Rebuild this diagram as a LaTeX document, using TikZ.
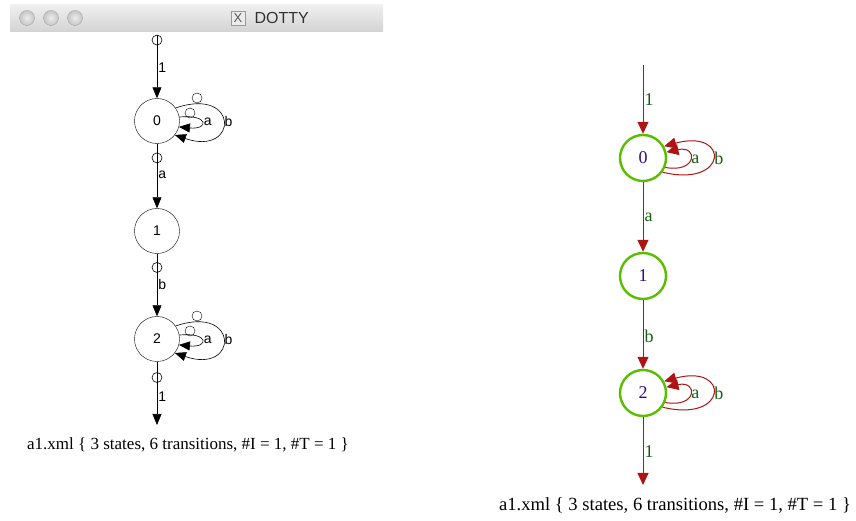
\documentclass[tikz,border=0pt]{standalone}
\usepackage{fontspec}
\setmainfont{Liberation Serif}
\newfontfamily\dottyfont{Liberation Sans}
\usetikzlibrary{arrows.meta,positioning}

\definecolor{stategreen}{RGB}{90,190,0}
\definecolor{edgered}{RGB}{175,20,20}
\definecolor{labelgreen}{RGB}{20,95,20}
\definecolor{stateblue}{RGB}{45,10,140}

\tikzset{
  dstate/.style={circle, draw, minimum size=45pt, inner sep=0pt, font=\dottyfont\fontsize{14}{14}\selectfont},
  dedge/.style={-{Triangle[length=11pt,width=9pt]}, black, line width=0.6pt},
  dlabel/.style={font=\dottyfont\fontsize{14}{14}\selectfont, anchor=west, inner sep=1pt},
  handle/.style={circle, draw, minimum size=10pt, inner sep=0pt},
  rstate/.style={circle, draw=stategreen, line width=2.4pt, minimum size=46pt, inner sep=0pt,
    text=stateblue, font=\fontsize{18}{18}\selectfont},
  redge/.style={-{Triangle[length=12pt,width=11pt]}, edgered, line width=1pt},
  rlabel/.style={text=labelgreen, font=\fontsize{18}{18}\selectfont, anchor=west, inner sep=1pt}
}

\begin{document}
\begin{tikzpicture}[x=1pt,y=1pt]
  \useasboundingbox (0,0) rectangle (856,521);

  % dotty window title bar
  \shade[top color=gray!12, bottom color=gray!35] (10,489) rectangle (383,516);
  \foreach \cx in {27,51,75}
    \shade[draw=gray!70, inner color=gray!15, outer color=gray!45] (\cx,503) circle (7.5);
  \node[draw=gray!80, fill=gray!15, minimum size=14pt, inner sep=0pt,
    font=\dottyfont\fontsize{13}{13}\selectfont, text=gray!70!black] (xicon) at (238,503) {X};
  \node[font=\dottyfont\fontsize{16}{16}\selectfont, text=black!80, anchor=west] (title) at (251,503) {DOTTY};

  % dotty graph
  \node[dstate] (L0) at (157,400) {0};
  \node[dstate] (L1) at (157,290) {1};
  \node[dstate] (L2) at (157,182) {2};
  \coordinate (Lin) at (157,486);
  \coordinate (Lout) at (157,96);

  \draw[dedge] (Lin) -- node[handle, pos=0.08] {} node[dlabel, pos=0.52] {1} (L0);
  \draw[dedge] (L0) -- node[handle, pos=0.22] {} node[dlabel, pos=0.48] {a} (L1);
  \draw[dedge] (L1) -- node[handle, pos=0.22] {} node[dlabel, pos=0.5] {b} (L2);
  \draw[dedge] (L2) -- node[handle, pos=0.25] {} node[dlabel, pos=0.55] {1} (Lout);

  \foreach \s in {L0,L2} {
    \draw[dedge] (\s.10) .. controls +(30,3) and +(30,-3) .. (\s.-15)
      node[dlabel, pos=0.5, xshift=1pt] {a};
    \draw[dedge] (\s.35) .. controls +(64,22) and +(64,-22) .. (\s.-38)
      node[dlabel, pos=0.5] {b};
    \node[handle] at ([shift={(33,8)}]\s.center) {};
    \node[handle] at ([shift={(40,23)}]\s.center) {};
  }

  \node[font=\fontsize{17}{17}\selectfont] (Linfo) at (188,76)
    {a1.xml \{ 3 states, 6 transitions, \#I = 1, \#T = 1 \}};

  % rendered graph
  \node[rstate] (R0) at (643,363) {0};
  \node[rstate] (R1) at (643,245) {1};
  \node[rstate] (R2) at (643,128) {2};
  \coordinate (Rin) at (643,456);
  \coordinate (Rout) at (643,36);

  \draw[redge] (Rin) -- node[rlabel, pos=0.5] {1} (R0);
  \draw[redge] (R0) -- node[rlabel, pos=0.5] {a} (R1);
  \draw[redge] (R1) -- node[rlabel, pos=0.52] {b} (R2);
  \draw[redge] (R2) -- node[rlabel, pos=0.5] {1} (Rout);

  \foreach \s in {R0,R2} {
    \draw[redge] (\s.-23) .. controls +(32,-6) and +(32,7) .. (\s.14)
      node[rlabel, pos=0.5] {a};
    \draw[redge] (\s.-36) .. controls +(66,-16) and +(66,18) .. (\s.29)
      node[rlabel, pos=0.5] {b};
  }

  \node[font=\fontsize{18.6}{18.6}\selectfont] (Rinfo) at (675,16)
    {a1.xml \{ 3 states, 6 transitions, \#I = 1, \#T = 1 \}};
\end{tikzpicture}
\end{document}
